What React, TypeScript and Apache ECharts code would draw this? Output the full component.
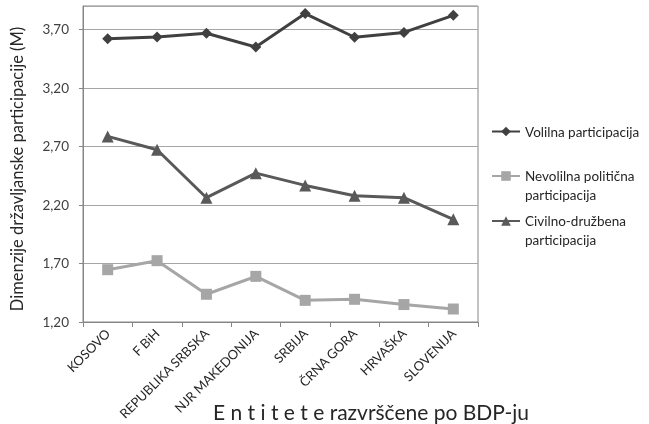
import React, { useEffect, useRef } from "react";
import * as echarts from "echarts";

const categories = ["KOSOVO", "F BiH", "REPUBLIKA SRBSKA", "NJR MAKEDONIJA", "SRBIJA", "ČRNA GORA", "HRVAŠKA", "SLOVENIJA"];
const volilna = [3.62, 3.636, 3.667, 3.55, 3.835, 3.633, 3.674, 3.82];
const nevolilna = [1.647, 1.724, 1.437, 1.59, 1.385, 1.394, 1.349, 1.311];
const civilno = [2.786, 2.672, 2.262, 2.472, 2.367, 2.279, 2.262, 2.077];
const seriesNames = ["Volilna participacija", "Nevolilna politična participacija", "Civilno-družbena participacija"];
const legendLabels = ["Volilna participacija", " \nNevolilna politična\nparticipacija", " \nCivilno-družbena\nparticipacija"];
const yAxisTitle = "Dimenzije državljanske participacije (M)";
const xAxisTitle = "E n t i t e t e razvrščene po BDP-ju";

const FONT = "Lato, 'Open Sans', sans-serif";

export default function App() {
  const ref = useRef<HTMLDivElement>(null);
  useEffect(() => {
    if (!ref.current) return;
    const chart = echarts.init(ref.current, undefined, { renderer: "svg" });
    const colors = ["#404040", "#a6a6a6", "#595959"];
    const symbols = ["diamond", "rect", "triangle"];
    const sizes = [11, 11, 12];
    const datas = [volilna, nevolilna, civilno];
    const legendTops = [122, 147.5, 192.5];
    chart.setOption({
      animation: false,
      textStyle: { fontFamily: FONT },
      grid: {
        left: 80,
        right: 171,
        top: 6,
        bottom: 102,
        show: true,
        borderColor: "#868686",
        borderWidth: 1,
      },
      legend: seriesNames.map((n, i) => ({
        data: [n],
        left: 491,
        top: legendTops[i],
        padding: 0,
        orient: "vertical",
        itemWidth: 28,
        itemHeight: 12,
        formatter: () => legendLabels[i],
        textStyle: {
          fontFamily: FONT,
          fontSize: 13.5,
          lineHeight: 19,
          color: "#262626",
        },
      })),
      graphic: [
        { type: "text", left: 213, top: 401, style: { text: xAxisTitle, font: `21px ${FONT}`, fill: "#262626" } },
      ],
      xAxis: {
        type: "category",
        data: categories,
        boundaryGap: true,
        axisLine: { lineStyle: { color: "#868686" } },
        axisTick: { show: true, alignWithLabel: false, length: 5, lineStyle: { color: "#868686" } },
        axisLabel: { rotate: 45, fontSize: 13, color: "#262626", margin: 9, interval: 0, fontFamily: FONT },
      },
      yAxis: {
        type: "value",
        min: 1.2,
        max: 3.9,
        interval: 0.5,
        name: yAxisTitle,
        nameLocation: "middle",
        nameGap: 58,
        nameTextStyle: { fontSize: 16.5, color: "#262626", fontFamily: FONT, padding: [0, 0, 0, -10] },
        axisLine: { show: true, lineStyle: { color: "#868686" } },
        axisTick: { show: true, length: 4, lineStyle: { color: "#868686" } },
        axisLabel: {
          fontSize: 13.5,
          color: "#404040",
          margin: 14,
          showMaxLabel: false,
          formatter: (v: number) => (Math.abs(v - 3.9) < 1e-6 ? "" : v.toFixed(2).replace(".", ",")),
        },
        splitLine: { show: true, lineStyle: { color: "#a6a6a6", width: 1 } },
      },
      series: seriesNames.map((n, i) => ({
        name: n,
        type: "line",
        data: datas[i],
        symbol: symbols[i],
        symbolSize: sizes[i],
        itemStyle: { color: colors[i] },
        lineStyle: { color: colors[i], width: 3 },
      })),
    });
    return () => chart.dispose();
  }, []);
  return <div ref={ref} style={{ position: "fixed", left: 0, top: 0, width: 649, height: 424 }} />;
}
